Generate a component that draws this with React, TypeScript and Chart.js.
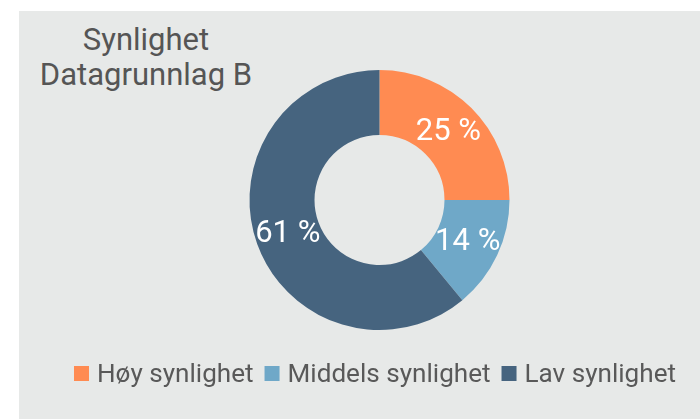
import React, { useEffect, useRef } from "react";
import { Chart, registerables } from "chart.js";

Chart.register(...registerables);

const categories: string[] = ["Høy synlighet", "Middels synlighet", "Lav synlighet"];
const values: number[] = [25, 14, 61];
const sliceColors: string[] = ["#FF8B52", "#6FA8C8", "#46647F"];
const titleLines: string[] = ["Synlighet", "Datagrunnlag B"];

const FONT = "Roboto, 'Noto Sans', sans-serif";

const sliceLabelPlugin = {
  id: "sliceLabels",
  afterDatasetsDraw(chart: any) {
    const ctx = chart.ctx;
    const meta = chart.getDatasetMeta(0);
    const data = chart.data.datasets[0].data as number[];
    ctx.save();
    ctx.fillStyle = "#ffffff";
    ctx.font = `400 31px ${FONT}`;
    ctx.textAlign = "center";
    ctx.textBaseline = "middle";
    meta.data.forEach((arc: any, i: number) => {
      const p = arc.getCenterPoint();
      ctx.fillText(`${data[i]} %`, p.x, p.y + 1);
    });
    ctx.restore();
  },
};

// Legend drawn below the doughnut from the chart's own labels and colours
const bottomLegendPlugin = {
  id: "bottomLegend",
  afterDraw(chart: any) {
    const ctx = chart.ctx;
    const labels = chart.data.labels as string[];
    const colors = chart.data.datasets[0].backgroundColor as string[];
    const box = 15;
    const gapText = 8;
    const gapItem = 11;
    const centerX = 356;
    const boxTop = 355;
    const baseline = 370.5;
    ctx.save();
    ctx.font = `400 26.1px ${FONT}`;
    const widths = labels.map((l) => ctx.measureText(l).width);
    const total =
      widths.reduce((s, w) => s + box + gapText + w, 0) + gapItem * (labels.length - 1);
    let x = centerX - total / 2;
    labels.forEach((l, i) => {
      ctx.fillStyle = colors[i];
      ctx.fillRect(x, boxTop, box, box);
      ctx.fillStyle = "#595959";
      ctx.textAlign = "left";
      ctx.textBaseline = "alphabetic";
      ctx.fillText(l, x + box + gapText, baseline);
      x += box + gapText + widths[i] + gapItem;
    });
    ctx.restore();
  },
};

export default function App() {
  const ref = useRef<HTMLCanvasElement | null>(null);

  useEffect(() => {
    if (!ref.current) return;
    const chart = new Chart(ref.current, {
      type: "doughnut",
      data: {
        labels: categories,
        datasets: [
          {
            data: values,
            backgroundColor: sliceColors,
            borderWidth: 0,
            radius: 130,
            cutout: "50%",
          },
        ],
      },
      options: {
        animation: false,
        responsive: true,
        maintainAspectRatio: false,
        layout: { padding: { left: 40, right: 0, top: 38.5, bottom: 68.5 } },
        plugins: {
          title: { display: false },
          tooltip: { enabled: false },
          legend: { display: false },
        },
      },
      plugins: [sliceLabelPlugin, bottomLegendPlugin],
    } as any);
    return () => chart.destroy();
  }, []);

  return (
    <div
      style={{
        position: "absolute",
        left: 19,
        top: 11,
        width: 681,
        height: 408,
        background: "#E7E9E8",
      }}
    >
      <div
        style={{
          position: "absolute",
          left: 17,
          top: 11,
          width: 220,
          textAlign: "center",
          fontFamily: FONT,
          fontSize: 31,
          lineHeight: "35px",
          color: "#555555",
          whiteSpace: "nowrap",
        }}
      >
        {titleLines.map((t) => (
          <div key={t}>{t}</div>
        ))}
      </div>
      <canvas ref={ref} style={{ position: "absolute", left: 0, top: 0, width: 681, height: 408 }} />
    </div>
  );
}
